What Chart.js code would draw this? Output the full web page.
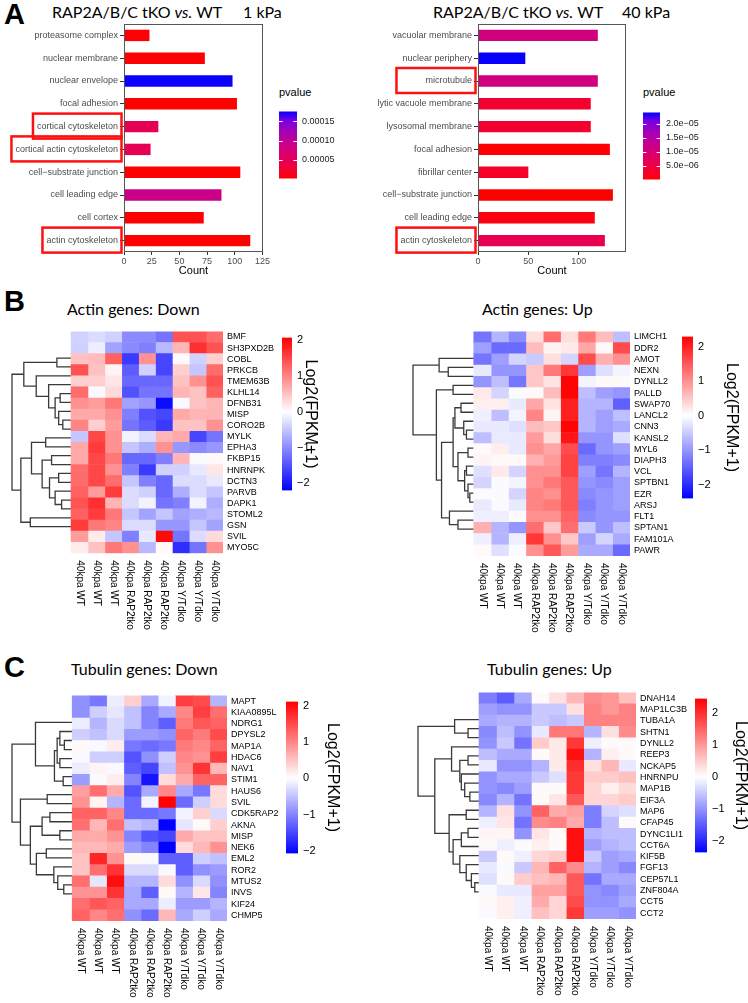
<!DOCTYPE html>
<html>
<head>
<meta charset="utf-8">
<script src="https://cdn.jsdelivr.net/npm/chart.js@4.4.1/dist/chart.umd.min.js"></script>
<style>
  body { margin: 0; background: #fff; }
  #page { position: relative; width: 748px; height: 1003px; overflow: hidden; font-family: "Liberation Sans", Arial, sans-serif; }
  canvas { position: absolute; }
  .t { position: absolute; white-space: nowrap; line-height: 1; color: #000; }
  .panel { font-weight: bold; font-size: 29px; }
  .ttl { font-family: Lato, "Open Sans", sans-serif; font-size: 16px; }
  .sub { font-family: Lato, "Open Sans", sans-serif; font-size: 16px; }
  .pv { font-size: 11px; }
</style>
</head>
<body>
<div id="page">
  <div class="t panel" style="left:4px;top:0px">A</div>
  <div class="t ttl" style="left:52px;top:4px">RAP2A/B/C tKO <i>vs.</i> WT</div>
  <div class="t ttl" style="left:243px;top:4px">1 kPa</div>
  <div class="t ttl" style="left:433px;top:4px">RAP2A/B/C tKO <i>vs.</i> WT</div>
  <div class="t ttl" style="left:622px;top:4px">40 kPa</div>
  <div class="t pv" style="left:279px;top:87px">pvalue</div>
  <div class="t pv" style="left:643px;top:87px">pvalue</div>

  <div class="t panel" style="left:4px;top:287px">B</div>
  <div class="t sub" style="left:67px;top:301px">Actin genes: Down</div>
  <div class="t sub" style="left:482px;top:301px">Actin genes: Up</div>

  <div class="t panel" style="left:4px;top:653px">C</div>
  <div class="t sub" style="left:71px;top:661px">Tubulin genes: Down</div>
  <div class="t sub" style="left:487px;top:661px">Tubulin genes: Up</div>
</div>

<script>
Chart.defaults.font.family = '"Liberation Sans", Arial, sans-serif';
Chart.defaults.color = '#000';

// ---- panel A: GO terms ----
const terms1k = ['proteasome complex', 'nuclear membrane', 'nuclear envelope', 'focal adhesion',
  'cortical cytoskeleton', 'cortical actin cytoskeleton', 'cell\u2212substrate junction',
  'cell leading edge', 'cell cortex', 'actin cytoskeleton'];
const counts1k = [23, 73, 98, 102, 31, 24, 105, 88, 72, 114];
const pvals1k = [4e-6, 3e-6, 1.74e-4, 1e-6, 4.8e-5, 4.8e-5, 1e-6, 8.9e-5, 3e-6, 1e-6];
const countTicks1k = [0, 25, 50, 75, 100, 125];
const pTicks1k = [5e-5, 1e-4, 1.5e-4];
const pTickLabels1k = ['0.00005', '0.00010', '0.00015'];

const terms40k = ['vacuolar membrane', 'nuclear periphery', 'microtubule', 'lytic vacuole membrane',
  'lysosomal membrane', 'focal adhesion', 'fibrillar center', 'cell\u2212substrate junction',
  'cell leading edge', 'actin cytoskeleton'];
const counts40k = [119, 47, 119, 112, 112, 131, 50, 134, 116, 126];
const pvals40k = [1.1e-5, 2.38e-5, 1.1e-5, 3e-6, 3e-6, 2e-7, 2.5e-6, 1e-7, 1e-6, 6.3e-6];
const countTicks40k = [0, 50, 100];
const pTicks40k = [5e-6, 1e-5, 1.5e-5, 2e-5];
const pTickLabels40k = ['5.0e\u221206', '1.0e\u221205', '1.5e\u221205', '2.0e\u221205'];

// ---- panels B, C: heatmaps ----
const samples = ['40kpa WT', '40kpa WT', '40kpa WT', '40kpa RAP2tko', '40kpa RAP2tko', '40kpa RAP2tko',
  '40kpa Y/Tdko', '40kpa Y/Tdko', '40kpa Y/Tdko'];
const legendTicks = [-2, -1, 0, 1, 2];

const actinDownGenes = ['BMF', 'SH3PXD2B', 'COBL', 'PRKCB', 'TMEM63B', 'KLHL14', 'DFNB31', 'MISP', 'CORO2B',
  'MYLK', 'EPHA3', 'FKBP15', 'HNRNPK', 'DCTN3', 'PARVB', 'DAPK1', 'STOML2', 'GSN', 'SVIL', 'MYO5C'];
const actinDown = [
  [-0.4, -0.3, -0.4, -1.0, -1.0, -1.2, 1.4, 1.4, 1.2],
  [-0.4, -0.15, -0.8, -1.0, -1.1, -0.6, 0.6, 1.7, 1.4],
  [0.5, 0.55, 1.3, -1.7, 0.9, -1.6, 0.05, -0.4, 0.4],
  [1.4, 0.5, 0.1, -1.4, -0.4, -1.6, 0.4, -0.5, 1.2],
  [0.4, 0.4, 0.2, -1.3, -1.3, -1.3, 0.5, 0.9, 1.4],
  [1.2, -0.05, 0.3, -1.5, -1.2, -1.2, 0.6, 0.5, 1.3],
  [0.9, 0.8, 1.1, -0.8, -0.9, -2.1, -0.05, 0.5, 0.6],
  [0.7, 0.7, 0.9, -1.1, -1.5, -1.6, 0.7, 0.6, 0.6],
  [1.0, 0.4, 0.8, -1.2, -1.4, -1.7, 0.5, 0.5, 0.9],
  [-0.5, 1.5, 0.9, -0.1, -0.3, 0.6, 0.7, -1.6, -1.2],
  [0.7, 1.6, 0.9, -0.5, -0.7, 0.9, -0.9, -1.0, -0.9],
  [0.7, 1.5, 1.1, -1.3, -1.3, -1.1, 0.6, -0.05, 0.05],
  [1.2, 1.5, 0.9, -1.1, -1.7, -0.4, -0.4, -0.2, 0.2],
  [1.2, 1.5, 1.2, -0.5, -1.1, -1.3, -0.3, -0.3, -0.2],
  [1.3, 0.8, 1.6, -0.3, -0.4, -1.3, -0.7, -0.3, -0.5],
  [1.4, 1.7, 0.6, -0.3, -0.1, -1.2, -1.1, -0.1, -0.7],
  [1.3, 1.6, 1.1, -0.5, -0.8, -0.5, -0.8, -0.7, -0.6],
  [1.6, 1.1, 1.0, -0.3, -0.3, -0.9, -0.9, -0.5, -0.8],
  [0.8, 0.15, -0.5, -1.1, -0.2, 2.0, -1.2, -0.3, 0.3],
  [0.15, 0.5, 1.1, 0.9, -0.6, 0.05, -1.8, -1.2, 0.9]
];
// [left, right, height] with leaf = row index, root height 10
const actinDownTree = [[[0, 1, 2.4], [2, [3, [[4, 5, 1.85], [6, [7, 8, 1.4], 2.1], 2.7], 3.8], 5.9], 8.0],
  [[[9, 10, 4.3], [[11, 12, 3.3], [[13, 14, 2.1], [15, [16, 17, 1.6], 2.7], 3.65], 4.9], 6.7], [18, 19, 6.9], 8.5], 10];

const actinUpGenes = ['LIMCH1', 'DDR2', 'AMOT', 'NEXN', 'DYNLL2', 'PALLD', 'SWAP70', 'LANCL2', 'CNN3', 'KANSL2',
  'MYL6', 'DIAPH3', 'VCL', 'SPTBN1', 'EZR', 'ARSJ', 'FLT1', 'SPTAN1', 'FAM101A', 'PAWR'];
const actinUp = [
  [-1.3, -0.7, -1.1, 0.3, 1.3, 0.3, 1.2, 0.6, -0.6],
  [-0.9, -1.4, -1.4, 0.6, 0.1, 0.2, 0.8, 0.05, 1.6],
  [-1.3, -0.9, -0.4, -0.5, 0.3, -0.4, 1.6, 0.7, 1.0],
  [-0.2, -1.0, -1.0, 0.5, 1.2, 1.8, -0.9, -0.3, -0.1],
  [-1.0, -0.6, -1.3, 0.5, 0.25, 2.25, -0.1, 0.05, 0.05],
  [0.2, -0.4, -0.05, 0.05, 0.6, 2.25, -0.6, -0.9, -1.0],
  [0.15, 0.15, -0.2, 0.8, 0.25, 2.0, -0.7, -0.7, -1.5],
  [-0.15, -0.6, -0.1, 1.1, 0.1, 2.0, -0.7, -0.9, -0.6],
  [-0.2, -0.2, -0.3, 0.6, 0.5, 2.25, -0.7, -0.9, -0.8],
  [-0.6, -0.2, -0.2, 0.9, 0.3, 2.1, -1.0, -1.0, -0.3],
  [0.05, 0.15, -0.2, 1.0, 0.8, 1.6, -1.4, -1.0, -0.9],
  [0.1, 0.05, 0.05, 0.7, 0.9, 1.7, -1.2, -1.2, -1.1],
  [-0.3, 0.2, -0.4, 1.0, 1.0, 1.7, -0.9, -1.3, -0.7],
  [-0.4, -0.05, -0.1, 1.0, 1.2, 1.5, -1.0, -1.1, -0.9],
  [-0.05, -0.05, -0.4, 1.1, 1.0, 1.5, -1.1, -1.0, -0.9],
  [-0.2, -0.05, -0.2, 1.1, 1.2, 1.5, -1.2, -1.0, -0.9],
  [-0.15, -0.15, -0.05, 1.0, 1.0, 1.4, -1.1, -1.0, -1.0],
  [0.7, -0.7, -1.0, 1.3, 0.5, 1.3, -0.5, -1.0, -0.6],
  [-0.15, -0.7, -0.15, 1.8, 1.0, 0.5, -0.9, -0.4, -0.8],
  [0.05, -0.3, -0.05, 1.0, 1.5, 0.9, -0.8, -0.8, -1.4]
];
const actinUpTree = [[0, [1, 2, 4.2], 5.7],
  [[3, 4, 3.4], [[[[5, 6, 2.1], [7, [8, 9, 1.2], 1.65], 3.1], [[10, 11, 0.95], [[12, 13, 1.2], [14, [15, 16, 0.65], 0.95], 1.5], 2.6], 3.4],
    [17, [18, 19, 2.6], 4.0], 5.3], 6.15], 10];

const tubDownGenes = ['MAPT', 'KIAA0895L', 'NDRG1', 'DPYSL2', 'MAP1A', 'HDAC6', 'NAV1', 'STIM1', 'HAUS6', 'SVIL',
  'CDK5RAP2', 'AKNA', 'MISP', 'NEK6', 'EML2', 'ROR2', 'MTUS2', 'INVS', 'KIF24', 'CHMP5'];
const tubDown = [
  [-0.9, -1.1, -0.15, 0.4, -0.7, -0.1, 1.6, 1.5, -0.6],
  [-0.9, -0.4, -0.2, -0.5, -1.0, -0.7, 1.0, 1.6, 1.2],
  [-0.15, -0.6, -0.3, -0.5, -1.0, -1.3, 1.1, 1.4, 1.3],
  [-0.4, -0.5, -0.3, -0.8, -0.8, -0.9, 1.3, 1.1, 1.5],
  [0.05, -0.05, 0.15, -1.1, -1.2, -1.1, 1.1, 1.0, 1.3],
  [-0.05, -0.4, -0.4, -1.4, -0.9, -0.4, 1.0, 0.9, 1.6],
  [-0.15, 0.1, -0.05, -1.3, -1.5, -0.5, 0.9, 1.7, 0.6],
  [-0.8, -0.05, 0.15, -1.0, -1.9, 0.3, 0.7, 1.3, 1.3],
  [0.8, 1.2, 0.7, -1.4, -0.7, 1.0, -0.7, -1.1, 0.3],
  [0.9, 0.1, -0.6, -1.2, -0.1, 2.1, -1.2, -0.4, 0.3],
  [1.3, 1.3, 1.0, -1.2, -1.2, -1.1, -0.1, 0.4, -0.3],
  [1.2, 0.6, 1.2, -0.5, -0.6, -2.05, -0.2, 0.05, 0.4],
  [0.7, 0.7, 0.9, -1.0, -1.4, -1.5, 0.7, 0.5, 0.5],
  [0.6, 0.6, 0.7, -0.8, -1.0, -2.05, 0.3, 0.6, 0.9],
  [0.5, 1.8, 0.9, 0.05, -0.05, -1.3, -1.3, -0.4, -0.5],
  [0.5, 1.2, 1.7, -0.3, -0.3, -0.05, -1.3, -0.9, -0.8],
  [1.2, -0.2, 2.0, -0.6, -0.6, 0.3, -0.9, -0.3, -0.9],
  [0.9, 0.9, 1.7, -0.7, -1.3, 0.05, -0.6, 0.2, -1.0],
  [1.2, 1.4, 1.3, -0.7, -0.7, -0.15, -0.8, -0.8, -0.6],
  [1.3, 1.0, 1.2, -0.9, -1.2, 0.6, -0.7, -0.4, -0.7]
];
const tubDownTree = [[0, [[[1, [2, 3, 1.3], 2.05], [4, 5, 2.05], 2.5], [6, 7, 1.5], 2.95], 6.1],
  [[8, 9, 4.15], [[[10, 11, 3.7], [12, 13, 2.05], 5.0], [[14, 15, 4.3], [16, [17, [18, 19, 1.4], 2.4], 3.05], 5.95], 6.95], 8.6], 10];

const tubUpGenes = ['DNAH14', 'MAP1LC3B', 'TUBA1A', 'SHTN1', 'DYNLL2', 'REEP3', 'NCKAP5', 'HNRNPU', 'MAP1B', 'EIF3A',
  'MAP6', 'CFAP45', 'DYNC1LI1', 'CCT6A', 'KIF5B', 'FGF13', 'CEP57L1', 'ZNF804A', 'CCT5', 'CCT2'];
const tubUp = [
  [-1.2, -1.5, -0.8, 0.05, 0.3, 0.7, 1.1, 1.0, 0.6],
  [-0.9, -1.0, -1.0, -0.5, -0.5, 0.3, 1.2, 1.0, 1.2],
  [-0.8, -0.7, -0.7, -0.5, -0.6, -0.5, 1.2, 1.2, 1.2],
  [-1.1, -0.6, -1.0, -0.2, 1.3, 1.3, -0.7, 0.3, 1.1],
  [-1.0, -0.5, -1.3, 0.5, 0.2, 1.9, -0.15, 0.05, 0.05],
  [-0.6, -0.8, -0.8, 0.05, 0.2, 2.3, -0.7, 0.15, 0.05],
  [-0.2, -1.0, -1.0, -0.7, 0.2, 2.0, 0.3, 0.7, -0.2],
  [-1.0, -0.8, -0.8, -0.5, -0.3, 1.9, 0.5, 0.5, 0.6],
  [-1.0, -1.1, -0.9, 0.05, 0.05, 1.9, 0.4, 0.15, 0.35],
  [-1.1, -0.7, -1.3, 0.05, 0.25, 1.6, 0.4, 0.4, 0.5],
  [-0.7, 0.3, -1.0, 1.5, 0.8, 0.9, -1.2, -0.4, -0.3],
  [-0.15, 0.25, -1.3, 1.1, 1.2, 0.8, -1.2, -0.6, 0.05],
  [0.1, 0.1, -1.0, 0.25, 0.05, 2.3, -0.7, -0.6, -0.6],
  [0.05, -0.15, -0.05, 0.15, 0.05, 2.3, -0.9, -0.7, -0.6],
  [-0.5, 0.05, -0.15, 0.4, 0.5, 2.3, -0.5, -0.9, -0.8],
  [-0.2, -0.05, -0.5, 0.7, 1.5, 1.1, -0.7, -0.9, -1.1],
  [-0.3, 0.05, 0.5, 0.6, 0.7, 1.6, -1.3, -0.8, -0.8],
  [-0.05, -0.2, -0.2, 0.9, 0.9, 1.6, -1.0, -1.1, -0.9],
  [0.05, 0.15, -0.15, 0.8, 0.4, 1.7, -1.0, -1.0, -0.8],
  [-0.05, 0.15, -0.15, 0.6, 0.4, 1.9, -0.9, -0.9, -1.0]
];
const tubUpTree = [[0, [1, 2, 1.8], 4.0],
  [[3, [[4, 5, 1.8], [6, [7, [8, 9, 1.5], 2.35], 2.9], 3.15], 4.5],
    [[10, 11, 2.1], [[[12, 13, 1.8], 14, 2.9], [15, [16, [17, [18, 19, 0.7], 1.25], 2.1], 3.15], 4.25], 4.9], 7.25], 10];

// ---- colours ----
// ggplot red -> blue gradient (Lab interpolated)
const pStops = [[255, 0, 0], [244, 0, 49], [232, 0, 79], [218, 0, 108], [202, 0, 136],
  [181, 0, 165], [154, 0, 194], [117, 0, 227], [0, 0, 255]];

function pColorAt(t) {
  t = Math.max(0, Math.min(1, t));
  const k = t * (pStops.length - 1), i = Math.min(Math.floor(k), pStops.length - 2), f = k - i;
  const c = pStops[i].map((v, j) => Math.round(v + (pStops[i + 1][j] - v) * f));
  return `rgb(${c[0]},${c[1]},${c[2]})`;
}

function heatColor(v, lo, hi) {
  let r = 255, g = 255, b = 255;
  if (v >= 0) { const t = Math.min(v / hi, 1); g = b = Math.round(255 * (1 - t)); }
  else { const t = Math.min(v / lo, 1); r = g = Math.round(255 * (1 - t)); }
  return `rgb(${r},${g},${b})`;
}

function makeCanvas(left, top, w, h) {
  const c = document.createElement('canvas');
  c.width = w; c.height = h;
  c.style.left = left + 'px'; c.style.top = top + 'px';
  c.style.width = w + 'px'; c.style.height = h + 'px';
  document.getElementById('page').appendChild(c);
  return c.getContext('2d');
}

// ---- plugins ----
const frame = {
  id: 'frame',
  afterDraw(chart) {
    const { ctx, chartArea: a } = chart;
    ctx.save();
    ctx.strokeStyle = '#555'; ctx.lineWidth = 1;
    ctx.strokeRect(a.left + 0.5, a.top + 0.5, a.right - a.left - 1, a.bottom - a.top - 1);
    ctx.restore();
  }
};

const redBoxes = {
  id: 'redBoxes',
  afterDraw(chart, args, opts) {
    const { ctx, chartArea: a } = chart;
    const ys = chart.scales.y;
    ctx.save();
    ctx.font = '9px "Liberation Sans"';
    const widths = opts.labels.map(l => ctx.measureText(l).width);
    const wMax = Math.max(...widths);
    ctx.strokeStyle = '#ff1010'; ctx.lineWidth = 2.5;
    opts.labels.forEach((l, i) => {
      const w = opts.uniform ? wMax : widths[i];
      const yc = ys.getPixelForValue(chart.data.labels.indexOf(l));
      const right = a.left - 2.5, left = a.left - 6 - w - 4;
      ctx.strokeRect(left, yc - 13, right - left, 25);
    });
    ctx.restore();
  }
};

const colLabels = {
  id: 'colLabels',
  afterDraw(chart) {
    const { ctx, chartArea: a, scales: { x } } = chart;
    ctx.save();
    ctx.font = '10px "Liberation Sans"'; ctx.fillStyle = '#000';
    ctx.textAlign = 'left'; ctx.textBaseline = 'middle';
    samples.forEach((s, c) => {
      ctx.save();
      ctx.translate(x.getPixelForValue(c + 0.5), a.bottom + 7);
      ctx.rotate(Math.PI / 2);
      ctx.fillText(s, 0, 0);
      ctx.restore();
    });
    ctx.restore();
  }
};

const whiteTicks = {
  id: 'whiteTicks',
  afterDatasetsDraw(chart, args, opts) {
    if (!opts.show) return;
    const { ctx, chartArea: a, scales: { y } } = chart;
    const len = (a.right - a.left) / 5;
    ctx.save();
    ctx.strokeStyle = '#fff'; ctx.lineWidth = 1;
    y.ticks.forEach(t => {
      const py = Math.round(y.getPixelForValue(t.value)) + 0.5;
      ctx.beginPath();
      ctx.moveTo(a.left, py); ctx.lineTo(a.left + len, py);
      ctx.moveTo(a.right - len, py); ctx.lineTo(a.right, py);
      ctx.stroke();
    });
    ctx.restore();
  }
};

// ---- builders ----
function goChart(o) {
  const ctx = makeCanvas(o.left, o.top, o.w, o.h);
  new Chart(ctx, {
    type: 'bar',
    data: {
      labels: o.terms,
      datasets: [{
        data: o.counts,
        backgroundColor: o.pvals.map(p => pColorAt((p - o.pMin) / (o.pMax - o.pMin))),
        barPercentage: 0.5, categoryPercentage: 1, borderWidth: 0
      }]
    },
    options: {
      indexAxis: 'y', responsive: false, animation: false,
      layout: { padding: { top: o.padTop, right: o.padRight, left: 0, bottom: 0 } },
      plugins: { legend: { display: false }, tooltip: { enabled: false }, redBoxes: { labels: o.boxes, uniform: o.uniform } },
      scales: {
        x: {
          type: 'linear', min: 0, max: o.max,
          afterBuildTicks: s => { s.ticks = o.ticks.map(v => ({ value: v })); },
          afterFit: s => { s.height = o.xAxisH; },
          grid: { drawOnChartArea: false, tickLength: 3, color: '#333' },
          border: { display: false },
          ticks: { font: { size: 9 }, color: '#4d4d4d', padding: 1, maxRotation: 0 },
          title: { display: true, text: 'Count', font: { size: 11 }, color: '#000', padding: { top: 0, bottom: 0 } }
        },
        y: {
          afterFit: s => { s.width = o.yAxisW; },
          grid: { offset: false, drawOnChartArea: false, tickLength: 4, color: '#333' },
          border: { display: false },
          ticks: { font: { size: 9 }, color: '#4d4d4d', padding: 2, autoSkip: false }
        }
      }
    },
    plugins: [frame, redBoxes]
  });
}

function colorBar(o) {
  const ctx = makeCanvas(o.left, o.top - 2, o.barW + o.axisW, o.barH + 4);
  new Chart(ctx, {
    type: 'bar',
    data: {
      labels: [''],
      datasets: [{
        data: [[o.min, o.max]],
        backgroundColor(c) {
          const a = c.chart.chartArea;
          if (!a) return '#fff';
          const g = c.chart.ctx.createLinearGradient(0, a.bottom, 0, a.top);
          o.stops.forEach(([t, col]) => g.addColorStop(t, col));
          return g;
        },
        barPercentage: 1, categoryPercentage: 1, borderWidth: 0
      }]
    },
    options: {
      responsive: false, animation: false,
      layout: { padding: { top: 2, bottom: 2, left: 0, right: 0 } },
      plugins: { legend: { display: false }, tooltip: { enabled: false }, whiteTicks: { show: o.whiteTicks } },
      scales: {
        x: { display: false },
        y: {
          position: 'right', min: o.min, max: o.max,
          afterBuildTicks: s => { s.ticks = o.ticks.map(v => ({ value: v })); },
          afterFit: s => { s.width = o.axisW; },
          grid: { display: false, drawTicks: false }, border: { display: false },
          ticks: { font: { size: o.tickSize }, color: o.tickColor, padding: o.tickPad,
            callback: (v, i) => o.labels[i] },
          title: o.title
            ? { display: true, text: o.title, font: { size: 16 }, color: '#000', padding: { top: 0, bottom: 0 } }
            : { display: false }
        }
      }
    },
    plugins: [whiteTicks]
  });
}

function dendroSegments(tree, k) {
  const segs = [];
  function walk(n) {
    if (typeof n === 'number') return { y: n, h: 0 };
    const L = walk(n[0]), R = walk(n[1]), h = n[2];
    segs.push([
      { x: -L.h * k, y: L.y }, { x: -h * k, y: L.y },
      { x: -h * k, y: R.y }, { x: -R.h * k, y: R.y }
    ]);
    return { y: (L.y + R.y) / 2, h };
  }
  walk(tree);
  return segs;
}

function heatmap(o) {
  const ctx = makeCanvas(o.left, o.top, o.w, o.h);
  const dendroUnits = 3.5;
  const datasets = samples.map((s, c) => ({
    type: 'bar',
    data: o.genes.map(() => [c, c + 1]),
    backgroundColor: o.vals.map(row => heatColor(row[c], o.lo, o.hi)),
    barPercentage: 1, categoryPercentage: 1, grouped: false, borderWidth: 0,
    xAxisID: 'x', yAxisID: 'y'
  }));
  dendroSegments(o.tree, dendroUnits / 10).forEach(seg => datasets.push({
    type: 'line', indexAxis: 'x', data: seg, xAxisID: 'x', yAxisID: 'yd',
    borderColor: '#3a3a3a', borderWidth: 1.3, pointRadius: 0, fill: false, tension: 0, clip: false
  }));
  new Chart(ctx, {
    type: 'bar',
    data: { labels: o.genes, datasets },
    options: {
      indexAxis: 'y', responsive: false, animation: false,
      layout: { padding: { left: o.padL, top: o.padT, bottom: o.padB, right: 0 } },
      plugins: { legend: { display: false }, tooltip: { enabled: false } },
      scales: {
        x: { type: 'linear', min: -dendroUnits, max: samples.length, display: false },
        y: {
          type: 'category', position: 'right',
          afterFit: s => { s.width = o.axisW; },
          grid: { display: false, drawTicks: false }, border: { display: false },
          ticks: { font: { size: 9 }, color: '#000', padding: 4, autoSkip: false }
        },
        yd: { type: 'linear', axis: 'y', min: -0.5, max: o.genes.length - 0.5, reverse: true, display: false }
      }
    },
    plugins: [colLabels]
  });
  const white = -o.lo / (o.hi - o.lo);
  colorBar({
    left: o.barL, top: o.barT, barW: o.barW, barH: o.barH, axisW: o.barAxisW,
    min: o.lo, max: o.hi, ticks: legendTicks,
    labels: legendTicks.map(v => String(v).replace('-', '\u2212')),
    stops: [[0, 'rgb(0,0,255)'], [white, 'rgb(255,255,255)'], [1, 'rgb(255,0,0)']],
    tickSize: 11, tickColor: '#000', tickPad: 5, title: 'Log2(FPKM+1)', whiteTicks: false
  });
}

// ---- panel A ----
goChart({ left: 0, top: 0, w: 272, h: 278, padTop: 24, padRight: 9, yAxisW: 124, xAxisH: 26,
  terms: terms1k, counts: counts1k, pvals: pvals1k, pMin: 1.5e-6, pMax: 1.76e-4,
  max: 125.5, ticks: countTicks1k,
  boxes: ['cortical cytoskeleton', 'cortical actin cytoskeleton', 'actin cytoskeleton'], uniform: false });
goChart({ left: 330, top: 0, w: 310, h: 278, padTop: 24, padRight: 14, yAxisW: 148, xAxisH: 26,
  terms: terms40k, counts: counts40k, pvals: pvals40k, pMin: 1e-7, pMax: 2.4e-5,
  max: 147, ticks: countTicks40k,
  boxes: ['microtubule', 'actin cytoskeleton'], uniform: true });

const pGrad = pStops.map((c, i) => [i / (pStops.length - 1), `rgb(${c[0]},${c[1]},${c[2]})`]);
colorBar({ left: 279, top: 103, barW: 18, barH: 84, axisW: 60, min: 1.5e-6, max: 1.76e-4,
  ticks: pTicks1k, labels: pTickLabels1k, stops: pGrad, tickSize: 9, tickColor: '#1a1a1a', tickPad: 5, whiteTicks: true });
colorBar({ left: 643, top: 103, barW: 17, barH: 86, axisW: 60, min: 1e-7, max: 2.4e-5,
  ticks: pTicks40k, labels: pTickLabels40k, stops: pGrad, tickSize: 9, tickColor: '#1a1a1a', tickPad: 6, whiteTicks: true });

// ---- panels B and C ----
heatmap({ left: 0, top: 322, w: 282, h: 330, padL: 12, padT: 6.7, padB: 98.7, axisW: 59,
  genes: actinDownGenes, vals: actinDown, tree: actinDownTree, lo: -2.2, hi: 2.08,
  barL: 282, barT: 327.7, barW: 10, barH: 172.3, barAxisW: 28 });
heatmap({ left: 400, top: 322, w: 280, h: 330, padL: 13, padT: 6, padB: 96, axisW: 50,
  genes: actinUpGenes, vals: actinUp, tree: actinUpTree, lo: -2.4, hi: 2.29,
  barL: 682, barT: 327, barW: 11, barH: 181, barAxisW: 48 });
heatmap({ left: 0, top: 686, w: 284, h: 317, padL: 12, padT: 6, padB: 82, axisW: 57,
  genes: tubDownGenes, vals: tubDown, tree: tubDownTree, lo: -2.07, hi: 2.12,
  barL: 286, barT: 692, barW: 12, barH: 171, barAxisW: 44 });
heatmap({ left: 400, top: 683, w: 290, h: 320, padL: 18, padT: 7, padB: 84, axisW: 54,
  genes: tubUpGenes, vals: tubUp, tree: tubUpTree, lo: -2.36, hi: 2.44,
  barL: 695, barT: 689, barW: 12, barH: 173, barAxisW: 43 });
</script>
</body>
</html>
